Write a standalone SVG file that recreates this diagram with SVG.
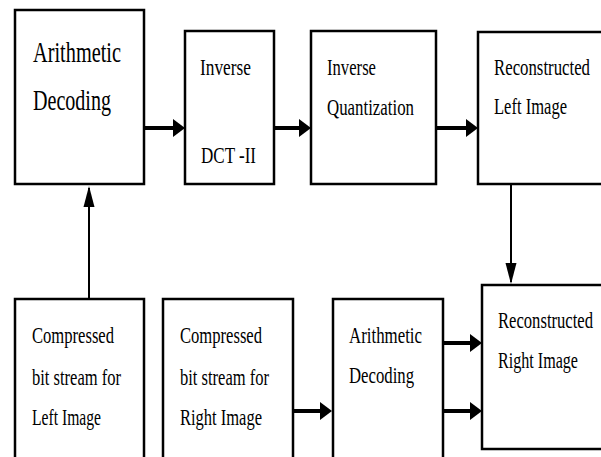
<svg xmlns="http://www.w3.org/2000/svg" width="601" height="457" viewBox="0 0 601 457">
<style>
.box{fill:#fff;stroke:#000;stroke-width:2.5}
.t{font-family:'Liberation Serif','DejaVu Serif',serif;fill:#000;font-size:24px}
.m{font-size:23px}
.big{font-size:30px}
.h{stroke:#000;stroke-width:4;fill:none}
.v{stroke:#000;stroke-width:2;fill:none}
</style>
<defs>
<marker id="ah" markerUnits="userSpaceOnUse" markerWidth="12" markerHeight="18" refX="6" refY="9" orient="auto" viewBox="0 0 12 18">
<path d="M0,0 L12,9 L0,18 Z" fill="#000"/>
</marker>
<marker id="av" markerUnits="userSpaceOnUse" markerWidth="21" markerHeight="12" refX="19" refY="6" orient="auto" viewBox="0 0 21 12">
<path d="M0,0.5 L21,6 L0,11.5 Z" fill="#000"/>
</marker>
</defs>
<g id="arith1">
<rect class="box" x="15" y="10" width="129" height="174"/>
<text class="t big" x="33" y="62" textLength="88" lengthAdjust="spacingAndGlyphs">Arithmetic</text>
<text class="t big" x="33" y="110" textLength="78" lengthAdjust="spacingAndGlyphs">Decoding</text>
</g>
<g id="idct">
<rect class="box" x="185" y="31" width="89" height="153"/>
<text class="t m" x="200" y="75" textLength="51" lengthAdjust="spacingAndGlyphs">Inverse</text>
<text class="t m" x="201" y="163" textLength="55" lengthAdjust="spacingAndGlyphs">DCT -II</text>
</g>
<g id="iquant">
<rect class="box" x="311" y="31" width="125" height="153"/>
<text class="t m" x="327" y="75" textLength="49" lengthAdjust="spacingAndGlyphs">Inverse</text>
<text class="t m" x="327" y="115" textLength="87" lengthAdjust="spacingAndGlyphs">Quantization</text>
</g>
<g id="recleft">
<rect class="box" x="478" y="32" width="140" height="152"/>
<text class="t m" x="494" y="75" textLength="96" lengthAdjust="spacingAndGlyphs">Reconstructed</text>
<text class="t m" x="494" y="114" textLength="73" lengthAdjust="spacingAndGlyphs">Left Image</text>
</g>
<g id="compleft">
<rect class="box" x="15" y="299" width="129" height="200"/>
<text class="t" x="32" y="343" textLength="82" lengthAdjust="spacingAndGlyphs">Compressed</text>
<text class="t" x="32" y="385" textLength="89" lengthAdjust="spacingAndGlyphs">bit stream for</text>
<text class="t" x="32" y="425" textLength="69" lengthAdjust="spacingAndGlyphs">Left Image</text>
</g>
<g id="compright">
<rect class="box" x="163" y="299" width="130" height="200"/>
<text class="t" x="180" y="343" textLength="82" lengthAdjust="spacingAndGlyphs">Compressed</text>
<text class="t" x="180" y="385" textLength="89" lengthAdjust="spacingAndGlyphs">bit stream for</text>
<text class="t" x="180" y="425" textLength="82" lengthAdjust="spacingAndGlyphs">Right Image</text>
</g>
<g id="arith2">
<rect class="box" x="333" y="299" width="110" height="200"/>
<text class="t m" x="349" y="343" textLength="73" lengthAdjust="spacingAndGlyphs">Arithmetic</text>
<text class="t m" x="349" y="383" textLength="65" lengthAdjust="spacingAndGlyphs">Decoding</text>
</g>
<g id="recright">
<rect class="box" x="482" y="285" width="140" height="164"/>
<text class="t" x="498" y="328" textLength="95" lengthAdjust="spacingAndGlyphs">Reconstructed</text>
<text class="t" x="498" y="368" textLength="80" lengthAdjust="spacingAndGlyphs">Right Image</text>
</g>
<g id="connectors">
<line class="h" x1="144" y1="128" x2="179" y2="128" marker-end="url(#ah)"/>
<line class="h" x1="274" y1="128" x2="305" y2="128" marker-end="url(#ah)"/>
<line class="h" x1="437" y1="128" x2="472" y2="128" marker-end="url(#ah)"/>
<line class="v" x1="511" y1="184" x2="511" y2="282" marker-end="url(#av)"/>
<line class="v" x1="89" y1="299" x2="89" y2="188" marker-end="url(#av)"/>
<line class="h" x1="293" y1="411" x2="326" y2="411" marker-end="url(#ah)"/>
<line class="h" x1="443" y1="343" x2="476" y2="343" marker-end="url(#ah)"/>
<line class="h" x1="443" y1="411" x2="476" y2="411" marker-end="url(#ah)"/>
</g>
</svg>
